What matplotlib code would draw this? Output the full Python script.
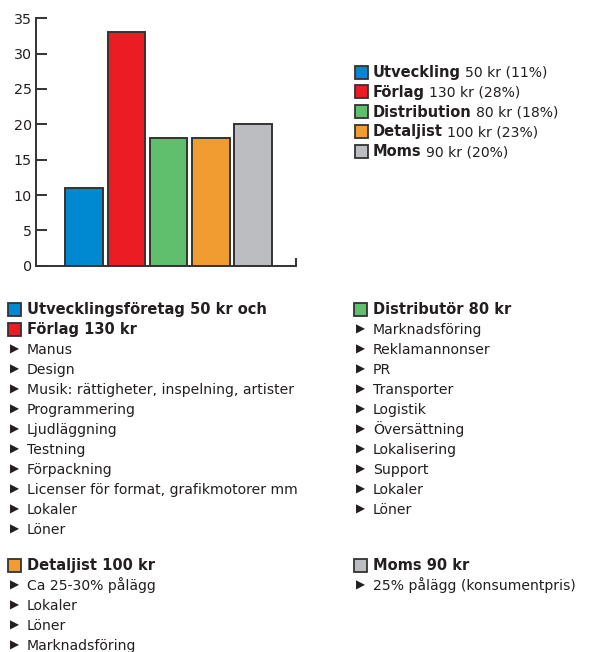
import matplotlib.pyplot as plt
from matplotlib.patches import Rectangle

plt.rcParams['font.family'] = ['DejaVu Sans']

# kostnadsfördelning per led
parts = ["Utveckling", "Förlag", "Distribution", "Detaljist", "Moms"]
shares = [11, 33, 18, 18, 20]
amounts = ["50 kr (11%)", "130 kr (28%)", "80 kr (18%)", "100 kr (23%)", "90 kr (20%)"]
colors = ["#0088D1", "#EC1C24", "#5FBF6D", "#F09C30", "#BCBDC0"]

yticks = [0, 5, 10, 15, 20, 25, 30, 35]

# listor under diagrammet
dev_head = ["Utvecklingsföretag 50 kr och", "Förlag 130 kr"]
dev_items = ["Manus", "Design", "Musik: rättigheter, inspelning, artister",
             "Programmering", "Ljudläggning", "Testning", "Förpackning",
             "Licenser för format, grafikmotorer mm", "Lokaler", "Löner"]
dist_head = "Distributör 80 kr"
dist_items = ["Marknadsföring", "Reklamannonser", "PR", "Transporter", "Logistik",
              "Översättning", "Lokalisering", "Support", "Lokaler", "Löner"]
retail_head = "Detaljist 100 kr"
retail_items = ["Ca 25-30% pålägg", "Lokaler", "Löner", "Marknadsföring"]
vat_head = "Moms 90 kr"
vat_items = ["25% pålägg (konsumentpris)"]

ink = "#231F20"
edge = "#333333"

fig = plt.figure(figsize=(5.95, 6.52), dpi=100)

# stapeldiagram
ax = fig.add_axes([36 / 595, 1 - 265.7 / 652, 260 / 595, 247.4 / 652])
x = list(range(len(shares)))
ax.bar(x, shares, width=0.9, color=colors, edgecolor=edge, linewidth=1.4)
ax.set_xlim(-1.15, 5.03)
ax.set_ylim(0, 35)
ax.set_yticks(yticks)
ax.set_xticks([])
for side in ("top", "right"):
    ax.spines[side].set_visible(False)
for side in ("left", "bottom"):
    ax.spines[side].set_color(edge)
    ax.spines[side].set_linewidth(1.4)
ax.tick_params(axis="y", direction="in", length=8, width=1.4, color=edge,
               pad=3, labelsize=10.3, labelcolor=ink)
# liten avslutande markering i x-axelns högra ände
ax.plot([1, 1], [0, 0.033], transform=ax.transAxes, color=edge, lw=1.4,
        clip_on=False, solid_capstyle="butt")

# overlay i pixelkoordinater för förklaringar och listor
ov = fig.add_axes([0, 0, 1, 1])
ov.set_xlim(0, 595)
ov.set_ylim(652, 0)
ov.axis("off")

fs = 10.1
fs_bold = 10.5


def square(x0, yc, color):
    ov.add_patch(Rectangle((x0, yc - 6.5), 13, 13, facecolor=color,
                           edgecolor=edge, linewidth=1.3))


def bullet(x0, yc):
    ov.text(x0, yc + 0.5, "\u25B6", fontsize=8.5, color=ink,
            va="center", ha="left")


def line(x0, yc, txt, bold=False):
    return ov.text(x0, yc + 5, txt, fontsize=fs_bold if bold else fs,
                   color=ink, va="baseline", ha="left",
                   fontweight="bold" if bold else "normal")


# förklaring till höger om diagrammet
for i, (name, amt, col) in enumerate(zip(parts, amounts, colors)):
    yc = 72 + i * 19.8
    square(355, yc, col)
    t = line(373, yc, name, bold=True)
    # beloppet direkt efter den feta texten
    ov.annotate(amt, xy=(1, 0), xycoords=t, xytext=(3, 0),
                textcoords="offset points", va="bottom", ha="left",
                fontsize=fs, color=ink)

step = 20
# utvecklare och förlag
square(8, 309, colors[0])
line(27, 309, dev_head[0], bold=True)
square(8, 329, colors[1])
line(27, 329, dev_head[1], bold=True)
for i, item in enumerate(dev_items):
    yc = 349 + i * step
    bullet(10, yc)
    line(27, yc, item)

# distributör
square(354, 309, colors[2])
line(373, 309, dist_head, bold=True)
for i, item in enumerate(dist_items):
    yc = 329 + i * step
    bullet(356, yc)
    line(373, yc, item)

# detaljist
square(8, 565, colors[3])
line(27, 565, retail_head, bold=True)
for i, item in enumerate(retail_items):
    yc = 585 + i * step
    bullet(10, yc)
    line(27, yc, item)

# moms
square(354, 565, colors[4])
line(373, 565, vat_head, bold=True)
for i, item in enumerate(vat_items):
    yc = 585 + i * step
    bullet(356, yc)
    line(373, yc, item)

fig.savefig("out.png", dpi=100)
